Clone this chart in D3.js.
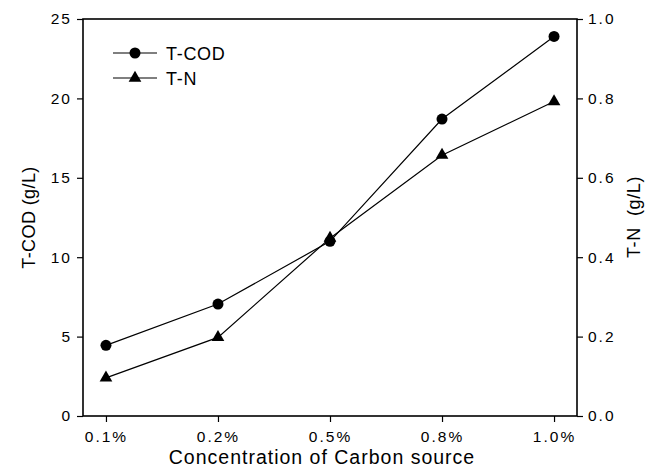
<!DOCTYPE html>
<html>
<head>
<meta charset="utf-8">
<script src="https://cdn.jsdelivr.net/npm/d3@7"></script>
<style>
  body { margin: 0; background: #fff; }
  svg text { font-family: "Liberation Sans", Arial, sans-serif; fill: #000; }
</style>
</head>
<body>
<div id="chart"></div>
<script>
// values
const categories = ["0.1%", "0.2%", "0.5%", "0.8%", "1.0%"];
const tcod = [4.45, 7.05, 11.0, 18.7, 23.9];
const tn = [0.096, 0.198, 0.448, 0.657, 0.792];
const leftTicks = [0, 5, 10, 15, 20, 25];
const rightTicks = [0, 0.2, 0.4, 0.6, 0.8, 1.0];

const width = 656, height = 468;
const margin = {top: 19, right: 79, bottom: 52, left: 83};

const svg = d3.select("#chart")
    .append("svg")
    .attr("width", width)
    .attr("height", height);

const x = d3.scalePoint()
    .domain(categories)
    .range([margin.left, width - margin.right])
    .padding(0.205);

const yLeft = d3.scaleLinear()
    .domain([0, 25])
    .range([height - margin.bottom, margin.top]);

const yRight = d3.scaleLinear()
    .domain([0, 1])
    .range([height - margin.bottom, margin.top]);

// frame
svg.append("rect")
    .attr("x", margin.left)
    .attr("y", margin.top)
    .attr("width", width - margin.left - margin.right)
    .attr("height", height - margin.top - margin.bottom)
    .attr("fill", "none")
    .attr("stroke", "#000")
    .attr("stroke-width", 1.6);

function styleAxis(g) {
    g.select(".domain").remove();
    g.selectAll(".tick line").attr("stroke", "#000").attr("stroke-width", 1.2);
    g.selectAll(".tick text")
        .style("font-size", "15.5px")
        .style("letter-spacing", "2px");
}

svg.append("g")
    .attr("transform", `translate(0,${height - margin.bottom})`)
    .call(d3.axisBottom(x).tickSize(6).tickPadding(9))
    .call(styleAxis);

svg.append("g")
    .attr("transform", `translate(${margin.left},0)`)
    .call(d3.axisLeft(yLeft).tickValues(leftTicks).tickSize(6).tickPadding(5))
    .call(styleAxis);

svg.append("g")
    .attr("transform", `translate(${width - margin.right},0)`)
    .call(d3.axisRight(yRight).tickValues(rightTicks).tickFormat(d3.format(".1f")).tickSize(6).tickPadding(5))
    .call(styleAxis);

// axis titles
svg.append("text")
    .attr("transform", `translate(35,${(margin.top + height - margin.bottom) / 2}) rotate(-90)`)
    .attr("text-anchor", "middle")
    .style("font-size", "18px")
    .style("letter-spacing", "0.4px")
    .text("T-COD (g/L)");

svg.append("text")
    .attr("transform", `translate(640,217) rotate(-90)`)
    .attr("text-anchor", "middle")
    .style("font-size", "18px")
    .style("letter-spacing", "0.6px")
    .style("white-space", "pre")
    .text("T-N  (g/L)");

svg.append("text")
    .attr("x", 322)
    .attr("y", 463.5)
    .attr("text-anchor", "middle")
    .style("font-size", "19.5px")
    .style("letter-spacing", "1px")
    .text("Concentration of Carbon source");

// series
const codLine = d3.line()
    .x((d, i) => x(categories[i]))
    .y(d => yLeft(d));

const tnLine = d3.line()
    .x((d, i) => x(categories[i]))
    .y(d => yRight(d));

svg.append("path")
    .attr("d", codLine(tcod))
    .attr("fill", "none")
    .attr("stroke", "#000")
    .attr("stroke-width", 1.2);

svg.append("path")
    .attr("d", tnLine(tn))
    .attr("fill", "none")
    .attr("stroke", "#000")
    .attr("stroke-width", 1.2);

const tri = d3.symbol().type(d3.symbolTriangle).size(70);

svg.append("g").selectAll("path")
    .data(tn)
    .enter().append("path")
    .attr("d", tri)
    .attr("transform", (d, i) => `translate(${x(categories[i])},${yRight(d)})`)
    .attr("fill", "#000");

svg.append("g").selectAll("circle")
    .data(tcod)
    .enter().append("circle")
    .attr("cx", (d, i) => x(categories[i]))
    .attr("cy", d => yLeft(d))
    .attr("r", 5.5)
    .attr("fill", "#000");

// legend
const legend = svg.append("g");
const legendItems = [{name: "T-COD", y: 53, mark: "circle"}, {name: "T-N", y: 78, mark: "tri"}];
legendItems.forEach(function (item) {
    legend.append("line")
        .attr("x1", 113).attr("x2", 157)
        .attr("y1", item.y).attr("y2", item.y)
        .attr("stroke", "#000")
        .attr("stroke-width", 1.2);
    if (item.mark === "circle") {
        legend.append("circle").attr("cx", 135).attr("cy", item.y).attr("r", 5.5).attr("fill", "#000");
    } else {
        legend.append("path").attr("d", tri).attr("transform", `translate(135,${item.y})`).attr("fill", "#000");
    }
    legend.append("text")
        .attr("x", 166)
        .attr("y", item.y + 6.5)
        .style("font-size", "18px")
        .style("letter-spacing", "0.7px")
        .text(item.name);
});
</script>
</body>
</html>
